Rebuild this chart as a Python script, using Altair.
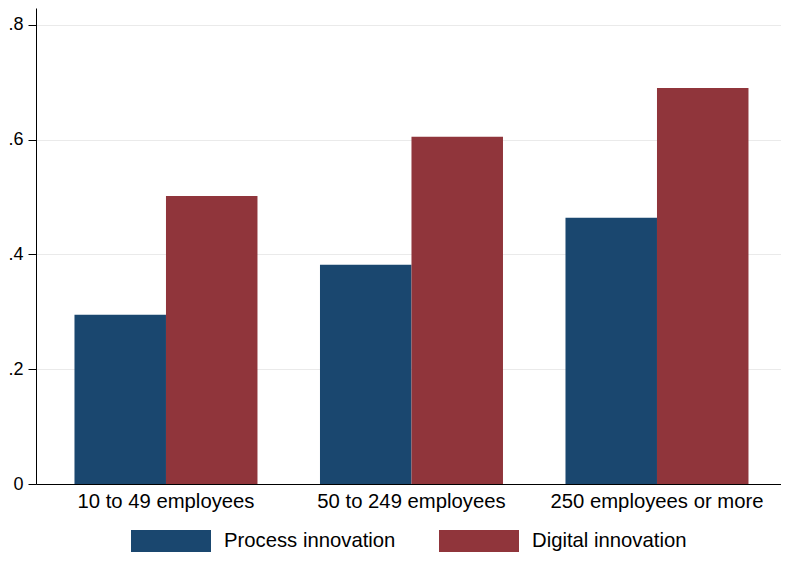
import altair as alt
import pandas as pd

categories = ["10 to 49 employees", "50 to 249 employees", "250 employees or more"]
series = ["Process innovation", "Digital innovation"]
process_vals = [0.295, 0.382, 0.464]
digital_vals = [0.502, 0.605, 0.690]
y_ticks = [0, 0.2, 0.4, 0.6, 0.8]
colors = ["#1a476f", "#90353b"]

rows = []
for c, p, d in zip(categories, process_vals, digital_vals):
    rows.append({"size": c, "type": series[0], "share": p})
    rows.append({"size": c, "type": series[1], "share": d})
df = pd.DataFrame(rows)

FONT = "Liberation Sans"
rect_path = "M-1,-0.275H1V0.275H-1Z"

chart = alt.Chart(df).mark_bar(strokeWidth=0).encode(
    x=alt.X("size:N", sort=categories, title=None,
            scale=alt.Scale(paddingInner=0.2546, paddingOuter=0.1446, align=0.542),
            axis=alt.Axis(labelAngle=0, ticks=False, domainColor="black", domainWidth=1,
                          labelFontSize=20.3, labelFont=FONT, labelColor="black",
                          labelPadding=7, grid=False, labelLimit=0)),
    xOffset=alt.XOffset("type:N", sort=series, scale=alt.Scale(paddingInner=0, paddingOuter=0)),
    y=alt.Y("share:Q", title=None,
            scale=alt.Scale(domain=[0, 0.8296], nice=False, zero=True),
            axis=alt.Axis(values=y_ticks, domainColor="black", domainWidth=1,
                          tickColor="black", tickSize=8, tickWidth=1,
                          labelFontSize=18, labelFont=FONT, labelColor="black",
                          labelPadding=5,
                          labelExpr="datum.value == 0 ? '0' : replace(format(datum.value, '.1f'), '0.', '.')",
                          grid=True, gridColor="#eaeaea", gridWidth=1)),
    color=alt.Color("type:N", sort=series,
                    scale=alt.Scale(domain=series, range=colors),
                    legend=alt.Legend(title=None, orient="none", direction="horizontal",
                                      legendX=95, legendY=493,
                                      symbolType=rect_path, symbolSize=6400,
                                      symbolStrokeWidth=0, symbolOpacity=1,
                                      labelFontSize=20.3, labelFont=FONT, labelColor="black",
                                      labelOffset=13, columnPadding=43,
                                      labelLimit=400)),
).properties(
    width=745, height=476,
    autosize=alt.AutoSizeParams(type="none"),
    padding={"left": 28, "top": 0, "right": 0, "bottom": 69},
    background="white",
).configure_view(strokeWidth=0, stroke=None)

chart.save("out.html", embed_options={"renderer": "svg", "actions": False})
